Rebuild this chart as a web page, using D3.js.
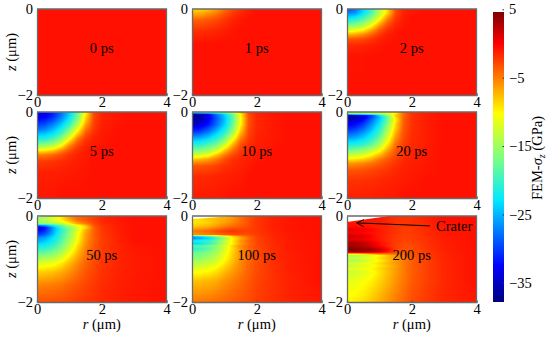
<!DOCTYPE html>
<html>
<head>
<meta charset="utf-8">
<script src="https://cdn.jsdelivr.net/npm/d3@7"></script>
<style>
  html, body { margin: 0; padding: 0; background: #fff; }
  text { font-family: "Liberation Serif", serif; fill: #000; }
</style>
</head>
<body>
<div id="chart"></div>
<script>
// значения: столбцы r (мкм), строки z (мкм), ячейки в ГПа
// короткая строка значит что дальше идет фон
const background = -.7;
const rGrid = [0, .25, .5, .75, 1, 1.25, 1.5, 1.75, 2, 2.5, 3, 4];
const timeLabels = ['0 ps', '1 ps', '2 ps', '5 ps', '10 ps', '20 ps', '50 ps', '100 ps', '200 ps'];
const labelR = [2, 2, 2, 2, 2, 2, 2, 2, 2];
const labelZ = [-.9, -.9, -.9, -.9, -.9, -.9, -.9, -.9, -.9];

const z0 = [0, -2];
const grid0 = [[], []];

const z1 = [0, -.1, -.25, -.5, -.8, -2];
const grid1 = [
  [-9, -9, -8, -6.5, -4.5, -3, -2, -1.1],
  [-7, -7, -6, -5, -3.5, -2.3, -1.5, -1],
  [-4, -4, -3.5, -3, -2.2, -1.5, -1],
  [-2, -2, -1.8, -1.5, -1.2, -.9],
  [],
  []
];

const z2 = [0, -.1, -.2, -.3, -.4, -.5, -.6, -.7, -.85, -1.1, -2];
const grid2 = [
  [-30, -28, -24, -20, -14, -9, -3, -1.3, -1],
  [-27, -26, -23, -19, -14, -8.5, -3, -1.3, -1],
  [-23.5, -22.5, -20, -16.5, -11.5, -6, -2.4, -1.1],
  [-20, -19, -17, -13.5, -8.5, -4, -1.8, -1],
  [-16, -15.5, -13.5, -10, -5.5, -2.8, -1.4, -.9],
  [-11.5, -11, -9.5, -6.5, -3.5, -1.8, -1],
  [-7, -6.5, -5.5, -3.8, -2.2, -1.2, -.9],
  [-3.5, -3.3, -3, -2.2, -1.4, -1, -.8],
  [-1.6, -1.6, -1.4, -1.2, -1, -.8],
  [-.8, -.8, -.8],
  []
];

const z5 = [0, -.03, -.1, -.2, -.3, -.4, -.5, -.6, -.7, -.8, -.9, -1, -1.15, -1.4, -2];
const grid5 = [
  [-29, -29, -27, -25, -22, -17, -10.5, -3, -1.4, -.9],
  [-34, -33, -31, -28, -24, -18, -10, -3, -1.4, -.9],
  [-33.5, -33, -31, -27.5, -23.5, -17.5, -9, -3, -1.4, -.9],
  [-32, -31, -29, -26, -22, -16, -8, -2.8, -1.4, -.9],
  [-30, -29, -27, -24, -20, -14, -6.5, -2.5, -1.3, -.9],
  [-28, -27, -25, -22, -17.5, -11, -5, -2.2, -1.2],
  [-25, -24.5, -23, -19.5, -14.5, -8.5, -3.5, -1.8, -1.1],
  [-22.5, -22, -20, -17, -11.5, -5.5, -2.6, -1.4, -1],
  [-19, -18.5, -17, -13.5, -8, -3.8, -1.8, -1.2, -1],
  [-15, -14.5, -13, -9.5, -5, -2.6, -1.4, -1.1],
  [-9.5, -9.3, -8, -5.5, -3.2, -1.8, -1.2],
  [-5, -4.8, -4, -3, -2, -1.4, -1.1],
  [-2.4, -2.3, -2.1, -1.8, -1.5, -1.2, -1],
  [-1.3, -1.3, -1.2, -1.2, -1.1, -1, -.9],
  [-.9, -.9, -.9]
];

const z10 = [0, -.03, -.06, -.15, -.3, -.45, -.6, -.7, -.8, -.9, -1, -1.1, -1.25, -1.5, -2];
const grid10 = [
  [-16, -15, -14, -13, -12, -10, -7, -3, -1.4, -.9],
  [-27, -26, -25, -23, -20, -15, -9, -3, -1.4, -.9],
  [-37, -36, -33, -28, -24, -18, -10, -3, -1.5, -.9],
  [-37, -36, -33.5, -29, -25, -19, -10.5, -3.3, -1.6, -1],
  [-35, -34, -31.5, -28, -24, -18, -10, -3.2, -1.6, -1],
  [-31, -30, -28, -25, -21.5, -16, -8, -2.8, -1.5, -1],
  [-26, -25.5, -24, -21.5, -18, -12, -5.5, -2.4, -1.4, -1],
  [-23, -22.5, -21, -19, -15, -9, -4, -2.1, -1.3, -.9],
  [-20, -19.5, -18, -16, -11.5, -6.5, -3, -1.7, -1.2, -.9],
  [-17, -16.5, -15, -12.5, -8, -4.5, -2.4, -1.5, -1.1],
  [-13, -12.5, -11, -8, -5, -3, -1.8, -1.3, -1],
  [-8, -7.5, -6.5, -5, -3.2, -2, -1.5, -1.2, -1],
  [-3.5, -3.4, -3.1, -2.7, -2, -1.6, -1.3, -1.1],
  [-1.7, -1.7, -1.6, -1.5, -1.3, -1.2, -1.1],
  [-1.1, -1.1, -1, -1, -.9]
];

const z20 = [0, -.04, -.08, -.12, -.2, -.4, -.6, -.75, -.9, -1, -1.1, -1.2, -1.35, -1.6, -2];
const grid20 = [
  [-15, -15, -14, -13, -12, -11, -10, -4, -2, -1.1],
  [-17, -16.5, -16, -15, -14, -12, -9.5, -4, -2, -1.1],
  [-36, -35, -33, -30, -23, -16, -8, -4.5, -2, -1.1],
  [-37, -36, -34, -30, -25, -18, -9, -4, -2, -1.1],
  [-35, -34, -32, -28, -24, -17.5, -9.5, -3.8, -2, -1.1],
  [-31, -30, -28, -25, -21, -15, -8, -3.5, -1.9, -1.1],
  [-26, -25.5, -24, -21.5, -18, -12, -6, -3, -1.8, -1.1],
  [-22, -21.5, -20.5, -18.5, -15, -9.5, -4.5, -2.6, -1.7, -1.1],
  [-17, -16.5, -15.5, -13.5, -10.5, -6.5, -3.5, -2.2, -1.5, -1],
  [-13.5, -13, -12, -10, -7.5, -5, -3, -2, -1.4, -1],
  [-9.5, -9.2, -8.5, -7, -5, -3.6, -2.5, -1.7, -1.3, -1],
  [-6, -5.8, -5.3, -4.5, -3.7, -2.8, -2.1, -1.5, -1.2, -.9],
  [-3.5, -3.4, -3.2, -2.9, -2.5, -2.1, -1.6, -1.3, -1.1, -.9],
  [-2, -2, -1.9, -1.8, -1.6, -1.4, -1.3, -1.1, -1],
  [-1.3, -1.3, -1.3, -1.2, -1.1, -1.1, -1]
];

const z50 = [0, -.1, -.18, -.22, -.27, -.33, -.42, -.5, -.6, -.75, -.95, -1.1, -1.3, -1.6, -2];
const grid50 = [
  [-17, -15, -12, -9, -6, -4, -3.5, -2.5, -1.6, -1],
  [-15, -14, -12, -10, -7, -4.5, -3.5, -2.5, -1.6, -1],
  [-16, -16, -15, -13, -10, -7, -5, -3, -1.8, -1.1],
  [-28, -26, -22, -18, -14, -11, -7.5, -3.5, -2, -1.2],
  [-36, -32, -26, -20, -16, -12, -9, -4, -2.2, -1.2],
  [-33, -31, -26, -21, -17, -12, -7, -4, -2.3, -1.2],
  [-31, -29, -25, -20, -16, -11, -6.5, -4, -2.4, -1.3],
  [-27, -26, -23, -19.5, -15.5, -10.5, -6.5, -4, -2.5, -1.4],
  [-25, -24, -22, -18.5, -14.5, -10, -6, -3.8, -2.5, -1.4],
  [-21, -20.5, -19, -16.5, -12.5, -8.5, -5.3, -3.5, -2.5, -1.5, -1],
  [-16, -15.5, -14.5, -12.5, -9.5, -6.8, -4.6, -3.3, -2.4, -1.5, -1.1],
  [-12, -11.5, -11, -9.5, -7.5, -5.6, -4, -3, -2.2, -1.5, -1.1],
  [-8.5, -8.2, -7.8, -7, -5.8, -4.6, -3.5, -2.8, -2, -1.4, -1.1],
  [-5.3, -5.2, -5, -4.6, -4, -3.4, -2.8, -2.3, -1.8, -1.3, -1],
  [-3.2, -3.2, -3.1, -3, -2.7, -2.4, -2.1, -1.9, -1.5, -1.2, -1]
];

const z100 = [0, -.07, -.15, -.25, -.35, -.43, -.48, -.52, -.58, -.64, -.7, -.76, -.85, -1, -1.25, -1.5, -2];
const grid100 = [
  [-9, -9, -8, -7.5, -7, -6, -4.5, -3.2, -2.2, -1.3, -.9],
  [-9, -9, -8, -7.5, -7, -6, -4.5, -3.2, -2.2, -1.3, -.9],
  [-9.5, -9, -8.5, -7.5, -6.5, -5.5, -4.3, -3.2, -2.2, -1.3, -.9],
  [-8, -7.5, -7, -6, -5, -4, -3.6, -3, -2.2, -1.3, -.9],
  [-5, -4.6, -4, -3.2, -2.4, -2, -2.4, -2.6, -2.2, -1.4, -.9],
  [-6, -5.5, -5, -4.2, -3.5, -3, -3, -3, -2.4, -1.5, -1],
  [-26, -24, -21, -17, -13, -9, -6, -4, -2.6, -1.6, -1],
  [-27, -26, -24, -20, -15.5, -10, -7, -4.5, -2.8, -1.6, -1],
  [-22, -21, -20, -17.5, -13.5, -9.5, -6, -4, -2.8, -1.7, -1.1],
  [-24, -23, -21, -18, -14, -10, -6.5, -4.3, -2.9, -1.7, -1.1],
  [-19, -18.5, -17.5, -15.5, -12, -8.5, -5.5, -4, -2.9, -1.8, -1.1],
  [-21, -20, -18.5, -16, -12.5, -9, -6, -4.2, -3, -1.8, -1.1],
  [-18, -17.5, -16.5, -14.5, -11.5, -8.5, -5.7, -4.2, -3, -1.8, -1.2],
  [-16, -15.5, -14.5, -13, -10.5, -8, -5.7, -4.2, -3.1, -1.9, -1.2],
  [-11.5, -11, -10.5, -9.5, -8, -6.5, -5.2, -4, -3, -2, -1.3],
  [-8, -7.8, -7.5, -7, -6, -5.2, -4.4, -3.6, -2.8, -2, -1.4],
  [-4.8, -4.8, -4.6, -4.3, -4, -3.6, -3.3, -2.9, -2.4, -1.9, -1.4, -1]
];

const z200 = [0, -.14, -.25, -.32, -.4, -.47, -.55, -.62, -.7, -.78, -.84, -.88, -.92, -.98, -1.04, -1.1, -1.16, -1.22, -1.3, -1.5, -2];
const grid200 = [
  [0, 0, 0, -.5, -1, -1.5, -2, -2, -2, -1.3],
  [-1, -1, -1, -1, -1, -1.5, -2, -2.2, -2, -1.4],
  [-.5, -.5, -.7, -1, -1.3, -1.6, -2, -2.3, -2.2, -1.5, -1],
  [1, .7, .3, -.3, -1, -1.5, -2, -2.4, -2.3, -1.6, -1],
  [0, 0, -.3, -.6, -1.1, -1.6, -2.1, -2.5, -2.4, -1.7, -1.1],
  [2, 1.6, 1, 0, -1, -1.6, -2.2, -2.6, -2.5, -1.8, -1.1],
  [1, .8, .4, -.3, -1, -1.7, -2.3, -2.7, -2.6, -1.9, -1.2],
  [3, 2.6, 2, 1, -.5, -1.5, -2.3, -2.8, -2.8, -1.9, -1.2],
  [3.5, 3, 2.5, 1.5, 0, -1.5, -2.5, -3, -3, -2, -1.3],
  [4.5, 4.3, 4, 3.3, 2, 0, -2.5, -3.2, -3.1, -2.1, -1.3],
  [3, 3, 2.8, 2.2, 1, -1, -3, -3.5, -3.3, -2.2, -1.4],
  [-8, -8, -7, -6, -5, -4.5, -4, -3.8, -3.4, -2.3, -1.4],
  [-15, -14.5, -13.5, -12, -10, -8, -6, -4.5, -3.6, -2.3, -1.5],
  [-13, -13, -12, -11, -9, -7.5, -6, -4.8, -3.8, -2.4, -1.5],
  [-15, -14.5, -13.5, -12, -10, -8, -6.3, -5, -3.8, -2.5, -1.5],
  [-12, -12, -11, -10, -8.8, -7.5, -6.2, -5, -3.8, -2.5, -1.6],
  [-13.5, -13, -12, -11, -9.5, -8, -6.5, -5, -3.8, -2.5, -1.6],
  [-11.5, -11.5, -10.8, -10, -8.8, -7.5, -6.2, -5, -3.8, -2.5, -1.6],
  [-13, -12.5, -11.8, -10.8, -9.3, -7.8, -6.3, -5, -3.8, -2.5, -1.6],
  [-11.5, -11.3, -10.6, -9.8, -8.6, -7.3, -6, -4.8, -3.7, -2.5, -1.6],
  [-10, -9.5, -9, -8, -7, -6, -5, -4, -3.1, -2.2, -1.5, -1]
];

// кратер: граница поверхности
const crater50R = [0, .4];
const crater50Z = [-.03, 0];
const crater100R = [0, 1.3];
const crater100Z = [-.07, 0];
const crater200R = [0, 1.3];
const crater200Z = [-.14, 0];

const craterArrowR = [2.56, .3];
const craterArrowZ = [-.23, -.16];

const zTicks = [0, -2];
const rTicks = [0, 2, 4];
const colorbarTicks = [5, -5, -15, -25, -35];

const zRows = [z0, z1, z2, z5, z10, z20, z50, z100, z200];
const grids = [grid0, grid1, grid2, grid5, grid10, grid20, grid50, grid100, grid200];
const craters = [null, null, null, null, null, null,
  [crater50R, crater50Z], [crater100R, crater100Z], [crater200R, crater200Z]];

const width = 550;
const height = 337;
const colsX = [37, 192, 347];
const rowsY = [9, 112, 216];
const panelW = 129.5;
const panelH = 86;

const svg = d3.select('#chart').append('svg')
  .attr('width', width)
  .attr('height', height)
  .style('display', 'block');

// палитра jet на диапазоне цветовой шкалы
const valueMin = -37.8;
const valueMax = 4.6;
const jetStops = [0, .11, .125, .35, .5, .65, .89, 1];
const jetColors = ['#00007f', '#0000f0', '#0000ff', '#00e8ff', '#7fff7f', '#ffff00', '#ff0000', '#7f0000'];
const jet = d3.scaleLinear()
  .domain(jetStops.map(t => valueMin + t * (valueMax - valueMin)))
  .range(jetColors)
  .clamp(true);

const rIndex = d3.scaleLinear().domain(rGrid).range(d3.range(rGrid.length)).clamp(true);

function cell(grid, i, j) {
  const v = grid[i][j];
  return v === undefined ? background : v;
}

// рисуем поле в скрытом canvas и вставляем как image
function fieldImage(grid, rows, x, y, w, h) {
  const zIndex = d3.scaleLinear().domain(rows).range(d3.range(rows.length)).clamp(true);
  const canvas = document.createElement('canvas');
  canvas.width = w;
  canvas.height = h;
  const ctx = canvas.getContext('2d');
  const img = ctx.createImageData(w, h);
  const x0 = x.range()[0];
  const y0 = y.range()[1];
  for (let py = 0; py < h; py++) {
    const fz = zIndex(y.invert(y0 + py + .5));
    const i0 = Math.min(Math.floor(fz), rows.length - 2);
    const tz = fz - i0;
    for (let px = 0; px < w; px++) {
      const fr = rIndex(x.invert(x0 + px + .5));
      const j0 = Math.min(Math.floor(fr), rGrid.length - 2);
      const tr = fr - j0;
      const top = cell(grid, i0, j0) * (1 - tr) + cell(grid, i0, j0 + 1) * tr;
      const bot = cell(grid, i0 + 1, j0) * (1 - tr) + cell(grid, i0 + 1, j0 + 1) * tr;
      const c = d3.rgb(jet(top * (1 - tz) + bot * tz));
      const k = (py * w + px) * 4;
      img.data[k] = c.r;
      img.data[k + 1] = c.g;
      img.data[k + 2] = c.b;
      img.data[k + 3] = 255;
    }
  }
  ctx.putImageData(img, 0, 0);
  return canvas.toDataURL();
}

svg.append('defs').append('marker')
  .attr('id', 'arrow')
  .attr('viewBox', '0 0 10 10')
  .attr('refX', 9)
  .attr('refY', 5)
  .attr('markerWidth', 9)
  .attr('markerHeight', 9)
  .attr('markerUnits', 'userSpaceOnUse')
  .attr('orient', 'auto')
  .append('path')
  .attr('d', 'M1,1 L9,5 L1,9')
  .attr('fill', 'none')
  .attr('stroke', '#000')
  .attr('stroke-width', 1);

timeLabels.forEach((label, n) => {
  const col = n % 3;
  const row = Math.floor(n / 3);
  const px = colsX[col];
  const py = rowsY[row];
  const x = d3.scaleLinear().domain([0, 4]).range([px, px + panelW]);
  const y = d3.scaleLinear().domain([-2, 0]).range([py + panelH, py]);

  svg.append('image')
    .attr('x', px)
    .attr('y', py)
    .attr('width', Math.round(panelW))
    .attr('height', panelH)
    .attr('href', fieldImage(grids[n], zRows[n], x, y, Math.round(panelW), panelH));

  if (craters[n]) {
    const [cr, cz] = craters[n];
    const area = d3.area().x(d => x(d)).y0(y(0)).y1((d, i) => y(cz[i]));
    svg.append('path').attr('d', area(cr)).attr('fill', '#fff');
  }

  const axisBottom = d3.axisBottom(x).tickValues(rTicks).tickFormat(d3.format('d')).tickSize(-1.5).tickPadding(2);
  const axisLeft = d3.axisLeft(y).tickValues(zTicks).tickFormat(d3.format('d')).tickSize(0).tickPadding(4);
  const gx = svg.append('g').attr('transform', `translate(0,${py + panelH})`).call(axisBottom);
  const gy = svg.append('g').attr('transform', `translate(${px},0)`).call(axisLeft);
  [gx, gy].forEach(g => {
    g.selectAll('path').attr('stroke', '#6a6a6a').attr('stroke-width', 1.3);
    g.selectAll('line').attr('stroke', '#555');
    g.selectAll('text').style('font-family', '"Liberation Serif", serif').style('font-size', '14.5px').attr('fill', '#000');
  });
  // верхняя и правая рамка
  svg.append('path')
    .attr('d', `M${px},${py}H${px + panelW}V${py + panelH}`)
    .attr('fill', 'none')
    .attr('stroke', '#6a6a6a')
    .attr('stroke-width', 1.3);

  svg.append('text')
    .attr('x', x(labelR[n]))
    .attr('y', y(labelZ[n]))
    .attr('dy', '0.35em')
    .attr('text-anchor', 'middle')
    .style('font-size', '14.5px')
    .text(label);

  if (col === 0) {
    const t = svg.append('text')
      .attr('transform', `translate(16,${py + 43}) rotate(-90)`)
      .attr('text-anchor', 'middle')
      .style('font-size', '14.5px');
    t.append('tspan').style('font-style', 'italic').text('z');
    t.append('tspan').text(' (μm)');
  }
  if (row === 2) {
    const t = svg.append('text')
      .attr('x', px + panelW / 2)
      .attr('y', 329)
      .attr('text-anchor', 'middle')
      .style('font-size', '14.5px');
    t.append('tspan').style('font-style', 'italic').text('r');
    t.append('tspan').text(' (μm)');
  }
  if (n === 8) {
    svg.append('line')
      .attr('x1', x(craterArrowR[0]))
      .attr('y1', y(craterArrowZ[0]))
      .attr('x2', x(craterArrowR[1]))
      .attr('y2', y(craterArrowZ[1]))
      .attr('stroke', '#000')
      .attr('stroke-width', 1)
      .attr('marker-end', 'url(#arrow)');
    svg.append('text')
      .attr('x', 436)
      .attr('y', 226)
      .attr('dy', '0.35em')
      .style('font-size', '14.5px')
      .text('Crater');
  }
});

// цветовая шкала
const barX = 493;
const barW = 11;
const barTop = 12;
const barBottom = 302;
const cScale = d3.scaleLinear().domain([valueMin, 5]).range([barBottom, 9.3]);

const barCanvas = document.createElement('canvas');
barCanvas.width = barW;
barCanvas.height = barBottom - barTop;
const barCtx = barCanvas.getContext('2d');
d3.range(barTop, barBottom).forEach(py => {
  barCtx.fillStyle = jet(cScale.invert(py + .5));
  barCtx.fillRect(0, py - barTop, barW, 1);
});
svg.append('image')
  .attr('x', barX)
  .attr('y', barTop)
  .attr('width', barW)
  .attr('height', barBottom - barTop)
  .attr('href', barCanvas.toDataURL());

const cAxis = d3.axisRight(cScale).tickValues(colorbarTicks).tickFormat(d3.format('d')).tickSize(-1.5).tickPadding(5);
const gc = svg.append('g').attr('transform', `translate(${barX + barW},0)`).call(cAxis);
gc.select('.domain').remove();
gc.selectAll('line').attr('stroke', '#333');
gc.selectAll('text').style('font-family', '"Liberation Serif", serif').style('font-size', '14.5px').attr('fill', '#000');

const cTitle = svg.append('text')
  .attr('transform', 'translate(542,158) rotate(-90)')
  .attr('text-anchor', 'middle')
  .style('font-size', '14.5px');
cTitle.append('tspan').text('FEM-');
cTitle.append('tspan').style('font-style', 'italic').text('σ');
cTitle.append('tspan').style('font-style', 'italic').style('font-size', '10px').attr('dy', 3).text('z');
cTitle.append('tspan').attr('dy', -3).text(' (GPa)');
</script>
</body>
</html>
